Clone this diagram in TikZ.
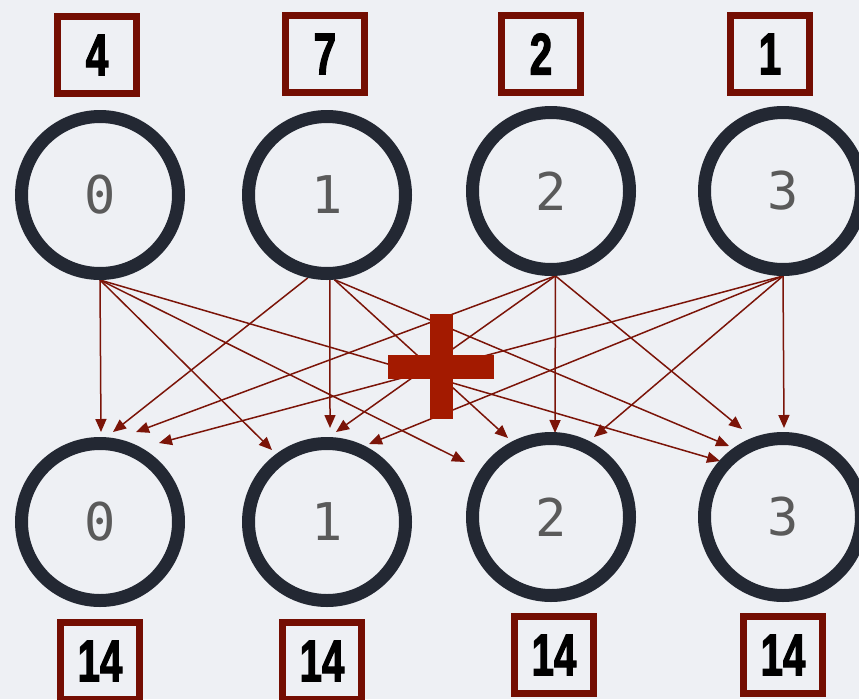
\documentclass[tikz,border=0pt]{standalone}
\usepackage{fontspec}
\usetikzlibrary{arrows.meta}
\newfontfamily\monof{DejaVu Sans Mono}
\newfontfamily\boxf{Liberation Sans}[FakeStretch=0.68,FakeBold=2]
\definecolor{bgc}{HTML}{EEF0F4}
\definecolor{ringc}{HTML}{232833}
\definecolor{boxc}{HTML}{740E02}
\definecolor{arrc}{HTML}{7B1408}
\definecolor{plusc}{HTML}{A31A00}
\definecolor{digc}{HTML}{5A5A5A}
\pgfdeclarelayer{under}
\pgfsetlayers{under,main}
\tikzset{
  ring/.style={circle, draw=ringc, line width=13pt, minimum size=157pt, inner sep=0pt,
    text=digc, font=\monof\fontsize{52}{52}\selectfont},
  valbox/.style={rectangle, draw=boxc, line width=7pt, minimum width=79pt, minimum height=77pt,
    inner sep=0pt, text=black, font=\boxf\bfseries\fontsize{59}{59}\selectfont},
  link/.style={draw=arrc, line width=1.5pt, -{Triangle[length=13pt,width=11pt]}}
}
\begin{document}
\begin{tikzpicture}[x=1pt,y=-1pt]
\begin{pgfonlayer}{under}
\fill[bgc] (0,0) rectangle (859,699);
\end{pgfonlayer}
\useasboundingbox (0,0) rectangle (859,699);

% top boxes
\node[valbox] (v0) at (97,55) {4};
\node[valbox] (v1) at (325,54) {7};
\node[valbox] (v2) at (541,54) {2};
\node[valbox] (v3) at (770,54) {1};

% top circles
\node[ring] (t0) at (100,195) {0};
\node[ring] (t1) at (327,195) {1};
\node[ring] (t2) at (551,191) {2};
\node[ring] (t3) at (783,191) {3};

% bottom circles
\node[ring] (b0) at (100,522) {0};
\node[ring] (b1) at (327,522) {1};
\node[ring] (b2) at (551,517) {2};
\node[ring] (b3) at (783,517) {3};

% bottom boxes
\node[valbox] (s0) at (100,661) {14};
\node[valbox] (s1) at (322,661) {14};
\node[valbox] (s2) at (554,655) {14};
\node[valbox] (s3) at (783,655) {14};

% arrow tips
\coordinate (e00) at (101,432); \coordinate (e10) at (113,432);
\coordinate (e20) at (136,432); \coordinate (e30) at (159,443);
\coordinate (e01) at (272,450); \coordinate (e11) at (330,428);
\coordinate (e21) at (336,432); \coordinate (e31) at (369,444);
\coordinate (e02) at (465,462); \coordinate (e12) at (508,438);
\coordinate (e22) at (555,433); \coordinate (e32) at (594,437);
\coordinate (e03) at (720,461); \coordinate (e13) at (729,446);
\coordinate (e23) at (742,429); \coordinate (e33) at (784,428);

\begin{pgfonlayer}{under}
\draw[link] (t0.south) -- (e00);
\draw[link] (t0.south) -- (e01);
\draw[link] (t0.south) -- (e02);
\draw[link] (t0.south) -- (e03);
\draw[link] (t1.257) -- (e10);
\draw[link] (t1.272) -- (e11);
\draw[link] (t1.275) -- (e12);
\draw[link] (t1.275) -- (e13);
\draw[link] (t2.273) -- (e20);
\draw[link] (t2.273) -- (e21);
\draw[link] (t2.273) -- (e22);
\draw[link] (t2.273) -- (e23);
\draw[link] (t3.south) -- (e30);
\draw[link] (t3.south) -- (e31);
\draw[link] (t3.south) -- (e32);
\draw[link] (t3.south) -- (e33);
\end{pgfonlayer}

% plus sign
\fill[plusc] (430,314) rectangle (453,419);
\fill[plusc] (388,355) rectangle (494,379);
\end{tikzpicture}
\end{document}
